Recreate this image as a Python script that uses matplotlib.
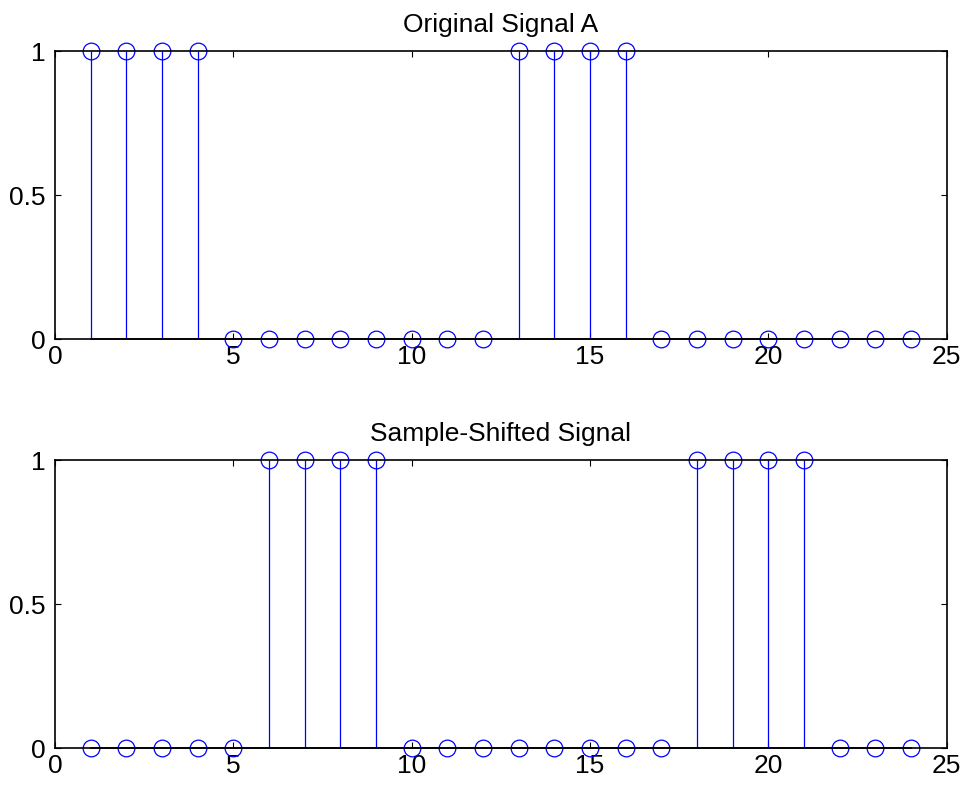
#!/usr/bin/env python3
"""Stem plots of a pulse signal and its sample-shifted version."""

import matplotlib
matplotlib.use('Agg')
import matplotlib.pyplot as plt
import numpy as np

n = np.arange(1, 25)
signal_a = [1, 1, 1, 1, 0, 0, 0, 0, 0, 0, 0, 0,
            1, 1, 1, 1, 0, 0, 0, 0, 0, 0, 0, 0]
shifted = [0, 0, 0, 0, 0, 1, 1, 1, 1, 0, 0, 0,
           0, 0, 0, 0, 0, 1, 1, 1, 1, 0, 0, 0]
titles = ['Original Signal A', 'Sample-Shifted Signal']
x_ticks = [0, 5, 10, 15, 20, 25]
y_ticks = [0, 0.5, 1]
y_tick_labels = ['0', '0.5', '1']

plt.rcParams['font.family'] = ['Liberation Sans', 'DejaVu Sans']
plt.rcParams['font.size'] = 19

fig = plt.figure(figsize=(9.65, 7.85), dpi=100)
positions = [[0.057, 0.568, 0.924, 0.367],
             [0.057, 0.047, 0.924, 0.367]]

for pos, values, title in zip(positions, [signal_a, shifted], titles):
    ax = fig.add_axes(pos)
    markerline, stemlines, baseline = ax.stem(n, values, basefmt='k-')
    plt.setp(markerline, marker='o', markersize=12, markerfacecolor='none',
             markeredgecolor='#0000ff', markeredgewidth=0.9)
    plt.setp(stemlines, color='#0000ff', linewidth=0.9)
    plt.setp(baseline, color='black', linewidth=1.2)
    ax.set_xlim(0, 25)
    ax.set_ylim(0, 1)
    ax.set_xticks(x_ticks)
    ax.set_yticks(y_ticks)
    ax.set_yticklabels(y_tick_labels)
    ax.tick_params(direction='in', length=4, width=0.8, top=True, right=True,
                   labelsize=19)
    ax.tick_params(axis='x', pad=4)
    ax.tick_params(axis='y', pad=7)
    for spine in ax.spines.values():
        spine.set_linewidth(1.2)
    for artist in [markerline, baseline] + list(np.atleast_1d(stemlines)):
        artist.set_clip_on(False)
    ax.set_title(title, fontsize=19, pad=14)

fig.savefig('out.png', dpi=100)
